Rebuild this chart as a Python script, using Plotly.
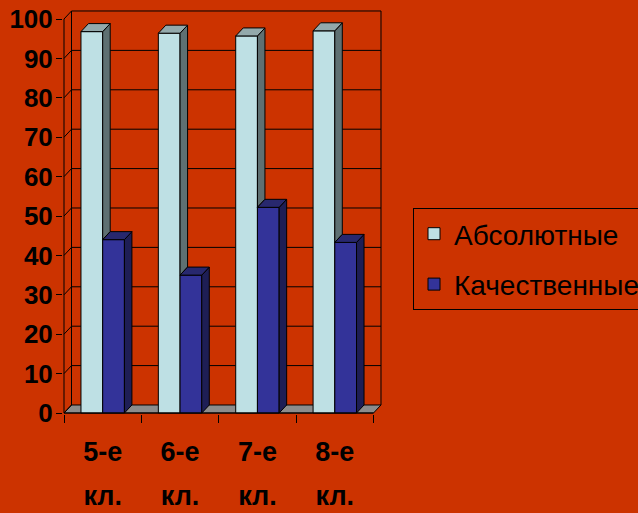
import plotly.graph_objects as go

# ---------------- data ----------------
categories = ["5-е", "6-е", "7-е", "8-е"]
category_suffix = "кл."
series_names = ["Абсолютные", "Качественные"]
absolute = [96.8, 96.4, 95.7, 97.0]
quality = [44.0, 35.0, 52.2, 43.3]
y_ticks = list(range(0, 101, 10))

# ---------------- style ----------------
BG = "#CC3300"
LIGHT_FRONT, LIGHT_SIDE, LIGHT_TOP = "#BEE0E4", "#5E7072", "#93A9AB"
DARK_FRONT, DARK_SIDE, DARK_TOP = "#333399", "#1E1E55", "#28286E"
FLOOR = "#8C8C8C"
FONT = "Liberation Sans, Arial"

CAT_PX = 77.3          # pixels per category
PX_UNIT = 3.93         # pixels per value unit
DX = 7.5 / CAT_PX      # depth offset (x, data units)
DY = 8.0 / PX_UNIT     # depth offset (y, data units)
BAR_W = 21.7 / CAT_PX

xpos = list(range(len(categories)))
x_left, x_right = -0.5, len(categories) - 0.5

fig = go.Figure()

# front faces (bars)
fig.add_trace(go.Bar(x=xpos, y=absolute, width=BAR_W, offset=-BAR_W, name=series_names[0],
                     marker=dict(color=LIGHT_FRONT, line=dict(color="black", width=1)),
                     legendgroup="a"))
fig.add_trace(go.Bar(x=xpos, y=quality, width=BAR_W, offset=0, name=series_names[1],
                     marker=dict(color=DARK_FRONT, line=dict(color="black", width=1)),
                     legendgroup="b"))


def face(xs, ys, color):
    fig.add_trace(go.Scatter(x=xs, y=ys, fill="toself", fillcolor=color, mode="lines",
                             line=dict(color="black", width=1), showlegend=False,
                             hoverinfo="skip"))


for xc, va, vq in zip(xpos, absolute, quality):
    # light bar (left)
    x0, x1 = xc - BAR_W, xc
    face([x1, x1 + DX, x1 + DX, x1, x1], [vq, vq + DY, va + DY, va, vq], LIGHT_SIDE)
    face([x0, x0 + DX, x1 + DX, x1, x0], [va, va + DY, va + DY, va, va], LIGHT_TOP)
    # dark bar (right)
    x0, x1 = xc, xc + BAR_W
    face([x1, x1 + DX, x1 + DX, x1, x1], [0, DY, vq + DY, vq, 0], DARK_SIDE)
    face([x0, x0 + DX, x1 + DX, x1, x0], [vq, vq + DY, vq + DY, vq, vq], DARK_TOP)

# walls / floor / grid as shapes below traces
shapes = []
line_k = dict(color="black", width=1)
shapes.append(dict(type="path", xref="x", yref="y", layer="below",
                   path=f"M{x_left},0 L{x_right},0 L{x_right + DX},{DY} L{x_left + DX},{DY} Z",
                   fillcolor=FLOOR, line=line_k))
for t in y_ticks:
    if t > 0:
        shapes.append(dict(type="line", xref="x", yref="y", layer="below",
                           x0=x_left + DX, x1=x_right + DX, y0=t + DY, y1=t + DY, line=line_k))
    shapes.append(dict(type="line", xref="x", yref="y", layer="below",
                       x0=x_left, x1=x_left + DX, y0=t, y1=t + DY, line=line_k))
for xv in (x_left + DX, x_right + DX):
    shapes.append(dict(type="line", xref="x", yref="y", layer="below",
                       x0=xv, x1=xv, y0=DY, y1=y_ticks[-1] + DY, line=line_k))
shapes.append(dict(type="line", xref="x", yref="y", layer="above",
                   x0=x_left, x1=x_left, y0=0, y1=y_ticks[-1], line=line_k))
shapes.append(dict(type="line", xref="x", yref="y", layer="above",
                   x0=x_left, x1=x_right, y0=0, y1=0, line=line_k))

pad_x = 1 / CAT_PX
W, H = 638, 513
plot_w = (x_right - x_left + DX + 2 * pad_x) * CAT_PX
L = 63
R = W - L - plot_w
T, B = 10, 99

span = "<span style='font-size:27px'>{}</span>"
ticktext = [span.format(c) + "<br>" + span.format(category_suffix) for c in categories]

fig.update_layout(
    width=W, height=H,
    paper_bgcolor=BG, plot_bgcolor=BG,
    margin=dict(l=L, r=R, t=T, b=B, pad=0, autoexpand=False),
    barmode="overlay",
    shapes=shapes,
    showlegend=True,
    legend=dict(xref="container", yref="container", x=413 / W, y=1 - 208 / H,
                xanchor="left", yanchor="top",
                bgcolor="rgba(0,0,0,0)", bordercolor="black", borderwidth=1,
                font=dict(family=FONT, size=28, color="black"),
                tracegroupgap=11, itemclick=False),
    xaxis=dict(range=[x_left - pad_x, x_right + DX + pad_x], tickmode="array",
               tickvals=xpos, ticktext=ticktext, ticks="", showgrid=False,
               zeroline=False, showline=False, ticklabelstandoff=12, automargin=False,
               tickfont=dict(family=FONT, size=34, color="black", weight="bold"),
               minor=dict(tickmode="array", tickvals=[x - 0.5 for x in xpos] + [x_right],
                          ticks="outside", ticklen=8, tickcolor="black", tickwidth=1,
                          showgrid=False)),
    yaxis=dict(range=[-0.25, y_ticks[-1] + DY + 0.25], tickmode="array", tickvals=y_ticks,
               ticks="outside", ticklen=6, tickcolor="black", tickwidth=1,
               showgrid=False, zeroline=False, showline=False, automargin=False,
               ticklabelstandoff=-2,
               tickfont=dict(family=FONT, size=26, color="black", weight="bold")),
)

fig.write_html("out.html", config={"displayModeBar": False},
               post_script="document.body.style.margin='0';")
